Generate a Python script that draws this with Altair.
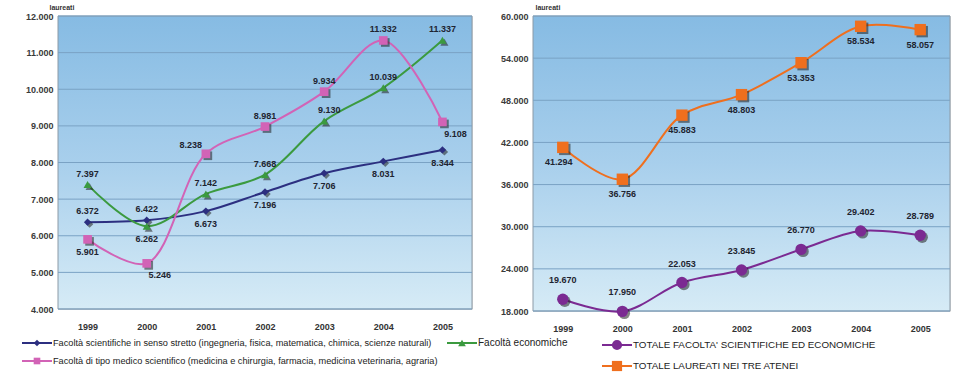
import altair as alt
import pandas as pd

YEARS = ["1999", "2000", "2001", "2002", "2003", "2004", "2005"]

SCI = [6372, 6422, 6673, 7196, 7706, 8031, 8344]
ECO = [7397, 6262, 7142, 7668, 9130, 10039, 11337]
MED = [5901, 5246, 8238, 8981, 9934, 11332, 9108]
TOT_SE = [19670, 17950, 22053, 23845, 26770, 29402, 28789]
TOT_ALL = [41294, 36756, 45883, 48803, 53353, 58534, 58057]

NAME_SCI = "Facoltà scientifiche in senso stretto (ingegneria, fisica, matematica, chimica, scienze naturali)"
NAME_ECO = "Facoltà economiche"
NAME_MED = "Facoltà di tipo medico scientifico (medicina e chirurgia, farmacia, medicina veterinaria, agraria)"
NAME_SE = "TOTALE FACOLTA' SCIENTIFICHE ED ECONOMICHE"
NAME_ALL = "TOTALE LAUREATI NEI TRE ATENEI"

# label placement relative to each point
POS_SCI = ["t", "t", "b", "b", "b", "b", "b"]
POS_ECO = ["t", "b", "t", "t", "tr", "t", "t"]
POS_MED = ["b", "br", "tl", "t", "t", "t", "br"]
POS_SE = ["t", "t", "t", "t", "t", "t", "t"]
POS_ALL = ["bl", "b", "b", "b", "b", "b", "b"]

LEFT_TICKS = [4000, 5000, 6000, 7000, 8000, 9000, 10000, 11000, 12000]
RIGHT_TICKS = [18000, 24000, 30000, 36000, 42000, 48000, 54000, 60000]

FONT = "Liberation Sans, Arial, sans-serif"
LBL_COLOR = "#1e2430"


def frame(names, series, positions):
    rows = []
    for n, vals, pos in zip(names, series, positions):
        for y, v, p in zip(YEARS, vals, pos):
            rows.append({"series": n, "year": y, "v": v, "pos": p})
    return pd.DataFrame(rows)


def fmt_expr(field):
    return f"replace(format({field}, ',d'), ',', '.')"


def bg(w, h):
    grad = alt.LinearGradient(
        gradient="linear",
        stops=[
            alt.GradientStop(color="#86bbe3", offset=0),
            alt.GradientStop(color="#a8cfec", offset=0.5),
            alt.GradientStop(color="#d6ebf6", offset=1),
        ],
        x1=0, x2=0, y1=0, y2=1,
    )
    return alt.Chart(pd.DataFrame({"d": [0]})).mark_rect(
        color=grad, stroke="#8c9aa6", strokeWidth=1
    ).encode(x=alt.value(0), x2=alt.value(w), y=alt.value(0), y2=alt.value(h))


def panel(df, names, colors, shapes, sizes, domain, ticks, w, h, interp,
          label_offsets, legend_items, title_x):
    color = alt.Color("series:N", scale=alt.Scale(domain=names, range=colors), legend=None)
    shape = alt.Shape("series:N", scale=alt.Scale(domain=names, range=shapes), legend=None)
    size = alt.Size("series:N", scale=alt.Scale(domain=names, range=sizes), legend=None)
    x = alt.X("year:O", sort=YEARS, title=None,
              axis=alt.Axis(ticks=False, domain=False, labelAngle=0, labelPadding=13,
                            labelFont=FONT, labelFontSize=9, labelFontWeight="bold",
                            labelColor="#333"))
    yscale = alt.Scale(domain=domain, nice=False, zero=False)
    yaxis = alt.Axis(values=ticks, grid=False, ticks=False, domain=False,
                     labelOverlap=False,
                     labelExpr=fmt_expr("datum.value"), labelFont=FONT,
                     labelFontSize=9, labelFontWeight="bold", labelColor="#3a3a3a",
                     labelPadding=5, titleAngle=0, titleAlign="left",
                     titleBaseline="bottom", titleX=title_x, titleY=-6,
                     titleFont=FONT, titleFontSize=7, titleFontWeight="bold",
                     titleColor="#333")
    y = alt.Y("v:Q", scale=yscale, title="laureati", axis=yaxis)

    grid = alt.Chart(pd.DataFrame({"t": ticks})).mark_rule(
        color="#7aa2c4", strokeWidth=1
    ).encode(y=alt.Y("t:Q", scale=yscale, title="laureati", axis=yaxis))

    base = alt.Chart(df).encode(x=x, y=y)
    lines = base.mark_line(strokeWidth=2, interpolate=interp).encode(color=color)
    shadows = base.mark_point(filled=True, opacity=0.55, xOffset=2, yOffset=2,
                              color="#202020").encode(shape=shape, size=size)
    points = base.mark_point(filled=True, opacity=1).encode(color=color, shape=shape, size=size)

    layers = [bg(w, h), grid, lines, shadows, points]

    lbl = base.transform_calculate(lbl=fmt_expr("datum.v"))
    for code, (dx, dy) in label_offsets.items():
        layers.append(
            lbl.transform_filter(alt.datum.pos == code).mark_text(
                font=FONT, fontSize=9, fontWeight="bold", color=LBL_COLOR,
                dx=dx, dy=dy
            ).encode(text="lbl:N")
        )

    # manual legend
    for name, lx, ly, fs in legend_items:
        one = alt.Chart(pd.DataFrame({"series": [name]}))
        layers.append(one.mark_rule(strokeWidth=2).encode(
            x=alt.value(lx), x2=alt.value(lx + 30), y=alt.value(ly), color=color))
        layers.append(one.mark_point(filled=True, opacity=1).encode(
            x=alt.value(lx + 15), y=alt.value(ly), color=color, shape=shape,
            size=alt.value(sizes[names.index(name)] * 0.8)))
        layers.append(one.mark_text(font=FONT, fontSize=fs, align="left",
                                    baseline="middle", color="#222",
                                    fontWeight="normal").encode(
            x=alt.value(lx + 31), y=alt.value(ly), text="series:N"))

    return alt.layer(*layers).properties(width=w, height=h)


left_df = frame([NAME_SCI, NAME_ECO, NAME_MED], [SCI, ECO, MED], [POS_SCI, POS_ECO, POS_MED])
right_df = frame([NAME_SE, NAME_ALL], [TOT_SE, TOT_ALL], [POS_SE, POS_ALL])

left = panel(
    left_df, [NAME_SCI, NAME_ECO, NAME_MED],
    ["#2c2f80", "#3b9a3f", "#d263b6"],
    ["diamond", "triangle-up", "square"],
    [55, 75, 55],
    [4000, 12000], LEFT_TICKS, 414, 293, "catmull-rom",
    {"t": (0, -11), "b": (0, 13), "tr": (5, -11), "br": (13, 12), "tl": (-15, -9)},
    [(NAME_SCI, -36, 327, 9.2), (NAME_ECO, 389, 327, 10), (NAME_MED, -36, 345, 9.2)],
    -9,
)

right = panel(
    right_df, [NAME_SE, NAME_ALL],
    ["#7b2a92", "#ef6f1e"],
    ["circle", "square"],
    [130, 130],
    [18000, 60000], RIGHT_TICKS, 417, 295, "catmull-rom",
    {"t": (0, -19), "b": (0, 15), "bl": (-4, 15)},
    [(NAME_SE, 69, 329, 9.8), (NAME_ALL, 69, 350, 9.8)],
    2,
)

chart = alt.hconcat(left, right, spacing=61, bounds="flush").resolve_scale(
    color="independent", shape="independent", size="independent"
).configure_view(
    stroke=None
).configure(padding={"left": 20, "top": 2, "right": 5, "bottom": 5}, background="white")

chart.save("out.html", embed_options={"renderer": "svg", "actions": False})
